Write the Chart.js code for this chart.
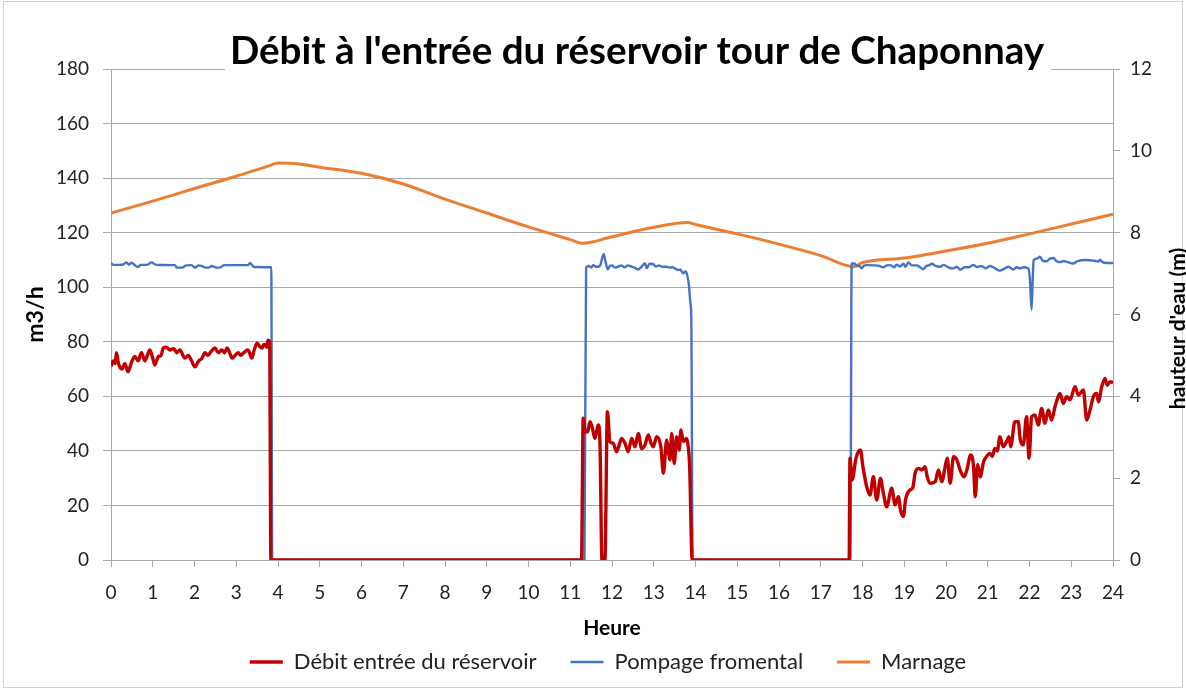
<!DOCTYPE html>
<html lang="fr">
<head>
<meta charset="utf-8">
<title>Débit à l'entrée du réservoir tour de Chaponnay</title>
<script src="https://cdn.jsdelivr.net/npm/chart.js@4.4.1/dist/chart.umd.min.js"></script>
<style>
  html, body { margin: 0; padding: 0; background: #fff; }
  #cadre { position: relative; width: 1186px; height: 689px; }
</style>
</head>
<body>
<div id="cadre"><canvas id="graphe"></canvas></div>
<script>
const titre = "Débit à l'entrée du réservoir tour de Chaponnay";
const titreAxeDroit = "hauteur d'eau (m)";

// Débit entrée du réservoir (m3/h)
const heuresDebit = [
  0.00, 0.05, 0.10, 0.13, 0.18, 0.26, 0.33, 0.41, 0.48, 0.57, 0.65, 0.73, 0.81, 0.87, 0.93,
  1.00, 1.05, 1.13, 1.20, 1.25, 1.33, 1.41, 1.50, 1.58, 1.65, 1.77, 1.85, 1.93,
  2.01, 2.10, 2.18, 2.25, 2.32, 2.40, 2.49, 2.57, 2.65, 2.72, 2.78, 2.84, 2.90, 2.97,
  3.05, 3.10, 3.16, 3.22, 3.28, 3.33, 3.37, 3.43, 3.50, 3.55, 3.62, 3.66, 3.70, 3.73, 3.76, 3.80, 3.83,
  11.27, 11.31, 11.36, 11.42, 11.47, 11.51, 11.55, 11.59, 11.63, 11.67, 11.71, 11.76, 11.83, 11.89, 11.95,
  12.03, 12.11, 12.17, 12.23, 12.31, 12.39, 12.47, 12.55, 12.63, 12.71, 12.79, 12.87, 12.93, 12.99,
  13.07, 13.17, 13.23, 13.31, 13.35, 13.39, 13.43, 13.49, 13.55, 13.61, 13.65, 13.71, 13.79, 13.83, 13.86, 13.92,
  17.68, 17.70, 17.75, 17.84, 17.90, 17.95, 18.01, 18.10, 18.18, 18.26, 18.34, 18.43, 18.50, 18.58, 18.70, 18.78, 18.86, 18.91, 18.98,
  19.03, 19.14, 19.20, 19.26, 19.34, 19.42, 19.50, 19.55, 19.62, 19.74, 19.82, 19.90, 19.98,
  20.03, 20.10, 20.18, 20.26, 20.34, 20.43, 20.50, 20.59, 20.66, 20.70, 20.76, 20.82, 20.90, 20.97,
  21.05, 21.11, 21.17, 21.23, 21.29, 21.37, 21.45, 21.51, 21.55, 21.65, 21.73, 21.78, 21.85, 21.93, 21.99,
  22.05, 22.13, 22.21, 22.29, 22.37, 22.45, 22.53, 22.61, 22.66, 22.73, 22.81, 22.89, 22.97,
  23.09, 23.17, 23.29, 23.37, 23.45, 23.53, 23.61, 23.65, 23.73, 23.81, 23.86, 23.93, 24.00
];
const debit = [
  71, 73, 72, 76, 72, 70, 72, 69, 72, 74.6, 73, 76, 73, 75, 77,
  74, 71.5, 74.5, 75, 77.7, 78, 77, 77.5, 76, 77, 74, 75, 73,
  70.8, 73, 74, 76, 75, 76.5, 77.7, 76, 77, 76, 77.7, 76, 74, 75,
  76, 75, 75.7, 76.5, 77, 75.5, 74, 77, 79.5, 78.5, 77.7, 79, 78.8, 78, 80.6, 80, 0,
  0, 52, 47, 47, 50.7, 49.5, 47, 44.6, 47, 49.5, 44, 0, 0, 54.4, 43.4,
  42.8, 39.7, 42, 44.6, 42.8, 39.7, 44.6, 41.5, 46.4, 40.9, 42.2, 45.8, 43, 41.5,
  45.2, 41.5, 31.8, 44, 40, 36.7, 46.4, 35.4, 45.2, 40.3, 47.7, 43.4, 44.6, 41, 34.2, 0,
  0, 37.3, 29.3, 37, 39.7, 40.3, 34.2, 26.9, 23.8, 30.5, 22, 29.9, 24.4, 19.5, 26.3, 20.2, 23.2, 18.3, 15.9,
  22, 25.7, 26.3, 31.8, 33.6, 33, 34.2, 30.5, 28.1, 28.7, 33, 28.7, 34.2,
  37.3, 28.1, 37.9, 36.7, 33, 30.5, 33, 38.5, 34.2, 23.2, 35, 30.5, 36, 37.9,
  39.1, 38, 40.9, 40, 45.2, 41.5, 43.4, 45.2, 41.5, 50.7, 50.7, 44, 42.2, 52.5, 37.3,
  52.5, 53.2, 49.5, 55.6, 50.1, 55, 51.3, 56.2, 58.7, 61.1, 57.4, 59.9, 58.7,
  63.5, 60.5, 62.3, 51.3, 55, 59.9, 61.1, 58, 63.5, 66.6, 64.1, 65.4, 65
];

// Pompage fromental (m3/h)
const heuresPompage = [
  0.00, 0.06, 0.20, 0.30, 0.37, 0.43, 0.49, 0.57, 0.64, 0.72, 0.86, 0.97,
  1.08, 1.53, 1.58, 1.70, 1.80, 1.93, 2.01, 2.10, 2.17, 2.26, 2.35, 2.41, 2.53, 2.62, 2.69, 2.75,
  3.28, 3.33, 3.42, 3.84, 3.86,
  11.34, 11.38, 11.44, 11.50, 11.55, 11.60, 11.66, 11.72, 11.80, 11.85, 11.90, 11.95,
  12.00, 12.07, 12.14, 12.22, 12.30, 12.38, 12.46, 12.54, 12.62, 12.70, 12.79, 12.83, 12.90, 12.98,
  13.05, 13.12, 13.20, 13.30, 13.38, 13.44, 13.52, 13.58, 13.64, 13.70, 13.76, 13.80, 13.84, 13.88, 13.90, 13.93,
  17.71, 17.74, 17.80, 17.86, 17.92, 17.98, 18.03, 18.10, 18.30, 18.40, 18.50, 18.58, 18.66, 18.75, 18.82, 18.90, 18.98,
  19.03, 19.10, 19.18, 19.30, 19.38, 19.46, 19.52, 19.60, 19.66, 19.75, 19.86, 19.95,
  20.05, 20.18, 20.26, 20.34, 20.45, 20.55, 20.65, 20.75, 20.85, 20.95,
  21.05, 21.15, 21.29, 21.40, 21.50, 21.61, 21.70, 21.77, 21.85, 21.97,
  22.01, 22.05, 22.08, 22.10, 22.18, 22.25, 22.32, 22.41, 22.48, 22.57, 22.65, 22.73, 22.82, 22.90,
  23.05, 23.15, 23.37, 23.55, 23.65, 23.69, 23.75, 23.85, 24.00
];
const pompage = [
  108.8, 108.2, 108.2, 108.4, 109.1, 108.3, 109, 108.1, 107.4, 108.2, 108.2, 109.1,
  108.2, 108.1, 107.2, 107.2, 108, 108.1, 107.2, 108, 107.8, 107.2, 107.2, 107.8, 107.2, 107.3, 108, 108.1,
  108.1, 108.9, 107.4, 107.3, 0,
  0, 107.2, 107.8, 107.2, 108.1, 107.6, 107.5, 108.1, 112.2, 109, 106.6, 107.8,
  108, 107.2, 107.5, 108, 107.3, 108, 107.6, 107.2, 106.5, 107.4, 108.8, 107, 108.6, 108.5,
  107.6, 108, 107.5, 107.5, 107.2, 107.3, 106.8, 106.3, 106.4, 105.1, 105.8, 104.5, 101, 94, 88, 0,
  0, 108.7, 108.7, 108, 107.8, 106.9, 107.9, 108.1, 108, 107.8, 107.3, 108, 108.1, 107.3, 108.3, 107.6, 108.6,
  107.5, 109.1, 108, 108, 107.3, 106.6, 107.7, 108.1, 108.6, 107.8, 107.5, 108.2,
  107.3, 106.9, 107.5, 106.4, 107.3, 107.3, 108.2, 107.4, 107.8, 106.9,
  107.8, 107.2, 106.1, 106.8, 107.5, 106.5, 107.3, 106.9, 107.3, 106.9,
  103, 91.8, 104, 109.9, 110.5, 111.2, 109.6, 109.5, 110.4, 110.7, 109.5, 109.2, 109.6, 109.3,
  108.7, 109.6, 110, 109.7, 109.4, 110.1, 109.2, 108.9, 108.9
];

// Marnage (hauteur d'eau, m)
const heuresMarnage = [0, 1, 2, 3, 3.8, 4, 4.5, 5, 6, 7, 8, 9, 10, 11, 11.3, 12, 13, 13.8, 14, 15, 16, 17, 17.8, 18, 19, 20, 21, 22, 23, 24];
const marnage = [8.48, 8.77, 9.08, 9.38, 9.64, 9.70, 9.68, 9.60, 9.45, 9.19, 8.82, 8.48, 8.14, 7.83, 7.74, 7.90, 8.13, 8.25, 8.20, 7.97, 7.72, 7.44, 7.17, 7.27, 7.38, 7.55, 7.74, 7.97, 8.21, 8.45];

function points(xs, ys) {
  return xs.map((x, i) => ({ x: x, y: ys[i] }));
}

const police = 'Lato, "Open Sans", sans-serif';
const texte = '#222222';
const gris = '#a8a8a8';

// fond blanc, cadre, titre posé sur la grille et titre de l'axe droit tourné comme dans Excel
const habillage = {
  id: 'habillage',
  beforeDraw(chart) {
    const ctx = chart.ctx;
    ctx.save();
    ctx.fillStyle = '#ffffff';
    ctx.fillRect(0, 0, chart.width, chart.height);
    ctx.restore();
  },
  afterDraw(chart) {
    const ctx = chart.ctx;
    const zone = chart.chartArea;
    ctx.save();
    ctx.strokeStyle = '#d0d0d0';
    ctx.lineWidth = 1;
    ctx.strokeRect(3.5, 1.5, chart.width - 7, chart.height - 3);

    let taille = 40;
    ctx.font = 'bold ' + taille + 'px ' + police;
    const largeur = ctx.measureText(titre).width;
    taille = Math.min(40, taille * 815 / largeur);
    ctx.font = 'bold ' + taille.toFixed(1) + 'px ' + police;
    ctx.fillStyle = '#ffffff';
    ctx.fillRect(225, 28, 826, 48);
    ctx.fillStyle = '#000000';
    ctx.textAlign = 'center';
    ctx.textBaseline = 'alphabetic';
    ctx.fillText(titre, 637, 64);

    ctx.translate(chart.width - 8, (zone.top + zone.bottom) / 2 + 14);
    ctx.rotate(-Math.PI / 2);
    ctx.font = 'bold 21px ' + police;
    ctx.textBaseline = 'middle';
    ctx.fillText(titreAxeDroit, 0, 0);
    ctx.restore();
  }
};

const ctx = document.getElementById('graphe');

new Chart(ctx, {
  type: 'line',
  data: {
    datasets: [{
      label: 'Débit entrée du réservoir',
      data: points(heuresDebit, debit),
      borderColor: '#c00000',
      backgroundColor: '#c00000',
      borderWidth: 3.4,
      pointRadius: 0,
      cubicInterpolationMode: 'monotone',
      yAxisID: 'y'
    }, {
      label: 'Pompage fromental',
      data: points(heuresPompage, pompage),
      borderColor: '#4472c4',
      backgroundColor: '#4472c4',
      borderWidth: 2.4,
      pointRadius: 0,
      cubicInterpolationMode: 'monotone',
      yAxisID: 'y'
    }, {
      label: 'Marnage',
      data: points(heuresMarnage, marnage),
      borderColor: '#ed7d31',
      backgroundColor: '#ed7d31',
      borderWidth: 3,
      pointRadius: 0,
      cubicInterpolationMode: 'monotone',
      yAxisID: 'y2'
    }]
  },
  options: {
    responsive: true,
    maintainAspectRatio: false,
    animation: false,
    events: [],
    layout: { padding: { top: 69, bottom: 6, left: 30, right: 0 } },
    plugins: {
      title: { display: false },
      tooltip: { enabled: false },
      legend: {
        position: 'bottom',
        labels: {
          usePointStyle: true,
          pointStyle: 'line',
          pointStyleWidth: 33,
          padding: 34,
          color: texte,
          font: { family: police, size: 22 }
        }
      }
    },
    scales: {
      x: {
        type: 'linear',
        min: 0,
        max: 24,
        ticks: { stepSize: 1, color: texte, padding: 14, maxRotation: 0, font: { family: police, size: 19 } },
        grid: { drawOnChartArea: false, tickLength: 7, color: gris },
        border: { color: gris },
        title: { display: true, text: 'Heure', color: '#000', padding: { top: 0, bottom: -24 }, font: { family: police, size: 21, weight: 'bold' } },
        afterFit(scale) { scale.height = 57; }
      },
      y: {
        position: 'left',
        min: 0,
        max: 180,
        ticks: { stepSize: 20, color: texte, padding: 14, font: { family: police, size: 19 } },
        grid: { color: gris, tickLength: 8 },
        border: { color: gris },
        title: { display: true, text: 'm3/h', color: '#000', padding: { top: -8, bottom: 0 }, font: { family: police, size: 23, weight: 'bold' } },
        afterFit(scale) { scale.width = 81; }
      },
      y2: {
        position: 'right',
        min: 0,
        max: 12,
        ticks: { stepSize: 2, color: texte, padding: 10, font: { family: police, size: 19 } },
        grid: { drawOnChartArea: false, color: gris, tickLength: 7 },
        border: { color: gris },
        title: { display: false },
        afterFit(scale) { scale.width = 73; }
      }
    }
  },
  plugins: [habillage]
});
</script>
</body>
</html>
